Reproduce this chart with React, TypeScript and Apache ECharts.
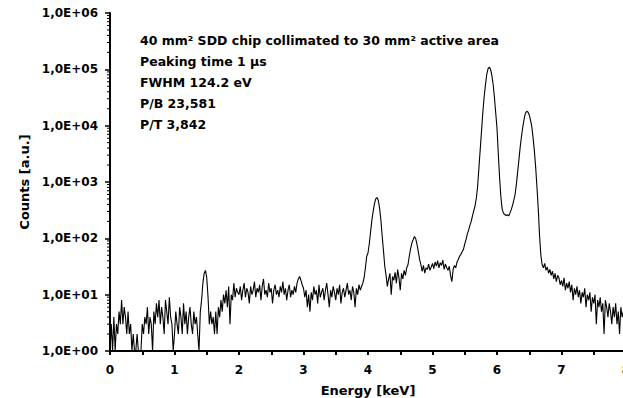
import React, { useEffect, useRef } from "react";
import * as echarts from "echarts";

// Energy channel spacing (keV) of the counts below, first channel at 0 keV
const ENERGY_STEP = 0.02;

// Counts per channel, one array per keV (50 channels each)
const counts0 = [1, 3, 1, 4, 1, 3, 2, 5, 3, 8, 3, 6, 4, 2, 5, 2, 3, 1, 2, 1, 1, 2, 1, 1, 1, 3, 2, 4, 3, 6, 2, 4, 3, 1, 5, 3, 7, 4, 8, 3, 6, 4, 2, 8, 5, 3, 9, 4, 3, 1];
const counts1 = [2, 5, 3, 2, 6, 4, 2, 7, 3, 5, 2, 4, 6, 3, 2, 5, 3, 4, 2, 1, 5, 8, 16, 24, 27, 20, 9, 3, 5, 3, 4, 2, 5, 2, 6, 4, 8, 5, 10, 7, 12, 6, 14, 3, 10, 8, 16, 9, 13, 11];
const counts2 = [10, 14, 8, 12, 16, 9, 13, 11, 7, 14, 10, 12, 17, 9, 13, 11, 15, 8, 14, 19, 10, 12, 9, 16, 11, 13, 7, 12, 15, 10, 12, 9, 14, 11, 17, 10, 13, 8, 12, 15, 9, 12, 10, 14, 11, 16, 19, 21, 18, 15];
const counts3 = [13, 9, 12, 6, 10, 5, 11, 8, 14, 10, 12, 7, 15, 9, 11, 13, 8, 12, 16, 10, 6, 12, 9, 14, 11, 8, 13, 10, 15, 7, 11, 13, 9, 12, 16, 10, 12, 8, 14, 11, 6, 13, 10, 15, 12, 14, 16, 20, 30, 48];
const counts4 = [55, 80, 130, 210, 300, 410, 500, 530, 470, 340, 210, 110, 60, 32, 22, 14, 19, 24, 10, 21, 18, 25, 16, 28, 20, 12, 24, 19, 27, 22, 30, 34, 48, 65, 82, 95, 108, 98, 78, 58, 42, 34, 26, 33, 24, 30, 28, 35, 27, 31];
const counts5 = [36, 29, 38, 32, 40, 30, 37, 33, 41, 28, 35, 30, 27, 32, 22, 17, 28, 33, 30, 38, 42, 48, 52, 58, 64, 80, 95, 120, 140, 170, 200, 250, 310, 380, 520, 850, 1800, 3800, 8000, 17000, 32000, 52000, 80000, 102000, 110000, 100000, 78000, 55000, 32000, 17000];
const counts6 = [9000, 3200, 1200, 550, 330, 280, 265, 255, 262, 250, 280, 320, 380, 470, 600, 900, 1500, 2500, 4200, 6500, 9500, 13000, 16500, 18000, 17500, 15500, 12500, 9500, 6000, 3500, 1800, 800, 330, 110, 50, 34, 30, 36, 27, 31, 24, 28, 22, 26, 19, 24, 17, 22, 20, 15];
const counts7 = [18, 14, 20, 12, 16, 13, 17, 11, 15, 8, 13, 10, 14, 9, 12, 7, 11, 9, 13, 6, 10, 8, 11, 5, 9, 7, 10, 3, 8, 6, 9, 5, 7, 2, 8, 6, 4, 7, 5, 3, 6, 4, 7, 3, 5, 2, 6, 4, 5, 3];

const xTicks = [0, 1, 2, 3, 4, 5, 6, 7, 8];
const yDecades = [0, 1, 2, 3, 4, 5, 6];
const infoLines = [
  "40 mm² SDD chip collimated to 30 mm² active area",
  "Peaking time 1 µs",
  "FWHM 124.2 eV",
  "P/B 23,581",
  "P/T 3,842",
];

const FONT = "DejaVu Sans";

export default function App() {
  const ref = useRef<HTMLDivElement>(null);
  useEffect(() => {
    document.body.style.margin = "0";
    const chart = echarts.init(ref.current!, null, { renderer: "svg" });
    const counts = [
      ...counts0, ...counts1, ...counts2, ...counts3,
      ...counts4, ...counts5, ...counts6, ...counts7,
    ];
    const data = counts.map((c, i) => [+(i * ENERGY_STEP).toFixed(2), c]);
    const minorVals: number[][] = [];
    yDecades.slice(0, -1).forEach((d) => {
      for (let m = 2; m <= 9; m++) minorVals.push([0, m * Math.pow(10, d)]);
    });
    chart.setOption({
      animation: false,
      backgroundColor: "#fff",
      grid: {
        left: 110,
        top: 13,
        bottom: 47,
        right: -3,
        containLabel: false,
        outerBoundsMode: "none",
      },
      xAxis: {
        type: "value",
        min: xTicks[0],
        max: xTicks[xTicks.length - 1],
        interval: 1,
        name: "Energy [keV]",
        nameLocation: "middle",
        nameGap: 33,
        nameTextStyle: { fontFamily: FONT, fontWeight: "bold", fontSize: 13, color: "#000" },
        axisLine: { lineStyle: { color: "#000", width: 2 } },
        axisTick: { show: true, length: 4, lineStyle: { color: "#000", width: 2 } },
        minorTick: { show: true, splitNumber: 2, length: 4, lineStyle: { color: "#000", width: 2 } },
        splitLine: { show: false },
        axisLabel: { fontFamily: FONT, fontWeight: "bold", fontSize: 12, color: "#000", margin: 13 },
      },
      yAxis: {
        type: "log",
        logBase: 10,
        min: Math.pow(10, yDecades[0]),
        max: Math.pow(10, yDecades[yDecades.length - 1]),
        name: "Counts [a.u.]",
        nameLocation: "middle",
        nameGap: 66,
        nameTextStyle: { fontFamily: FONT, fontWeight: "bold", fontSize: 13, color: "#000" },
        axisLine: { show: true, lineStyle: { color: "#000", width: 2 } },
        axisTick: { show: true, length: 5, lineStyle: { color: "#000", width: 1.5 } },
        splitLine: { show: false },
        axisLabel: {
          fontFamily: FONT,
          fontWeight: "bold",
          fontSize: 12,
          color: "#000",
          margin: 12,
          formatter: (v: number) => {
            const e = Math.round(Math.log10(v));
            return "1,0E+" + (e < 10 ? "0" + e : "" + e);
          },
        },
      },
      series: [
        {
          type: "line",
          data,
          showSymbol: false,
          symbol: "none",
          lineStyle: { color: "#000", width: 1.1 },
          clip: true,
        },
        {
          type: "custom",
          data: minorVals,
          silent: true,
          clip: false,
          renderItem: (params: any, api: any) => {
            const p = api.coord([0, api.value(1)]);
            return {
              type: "line",
              shape: { x1: p[0] - 3, y1: p[1], x2: p[0], y2: p[1] },
              style: { stroke: "#000", lineWidth: 1 },
            };
          },
        },
      ],
      graphic: infoLines.map((t, i) => ({
        type: "text",
        left: 140,
        top: 34 + i * 21,
        style: {
          text: t,
          fontFamily: FONT,
          fontWeight: "bold",
          fontSize: 12.5,
          fill: "#000",
        },
      })),
    });
    return () => chart.dispose();
  }, []);
  return <div ref={ref} style={{ width: 623, height: 398 }} />;
}
